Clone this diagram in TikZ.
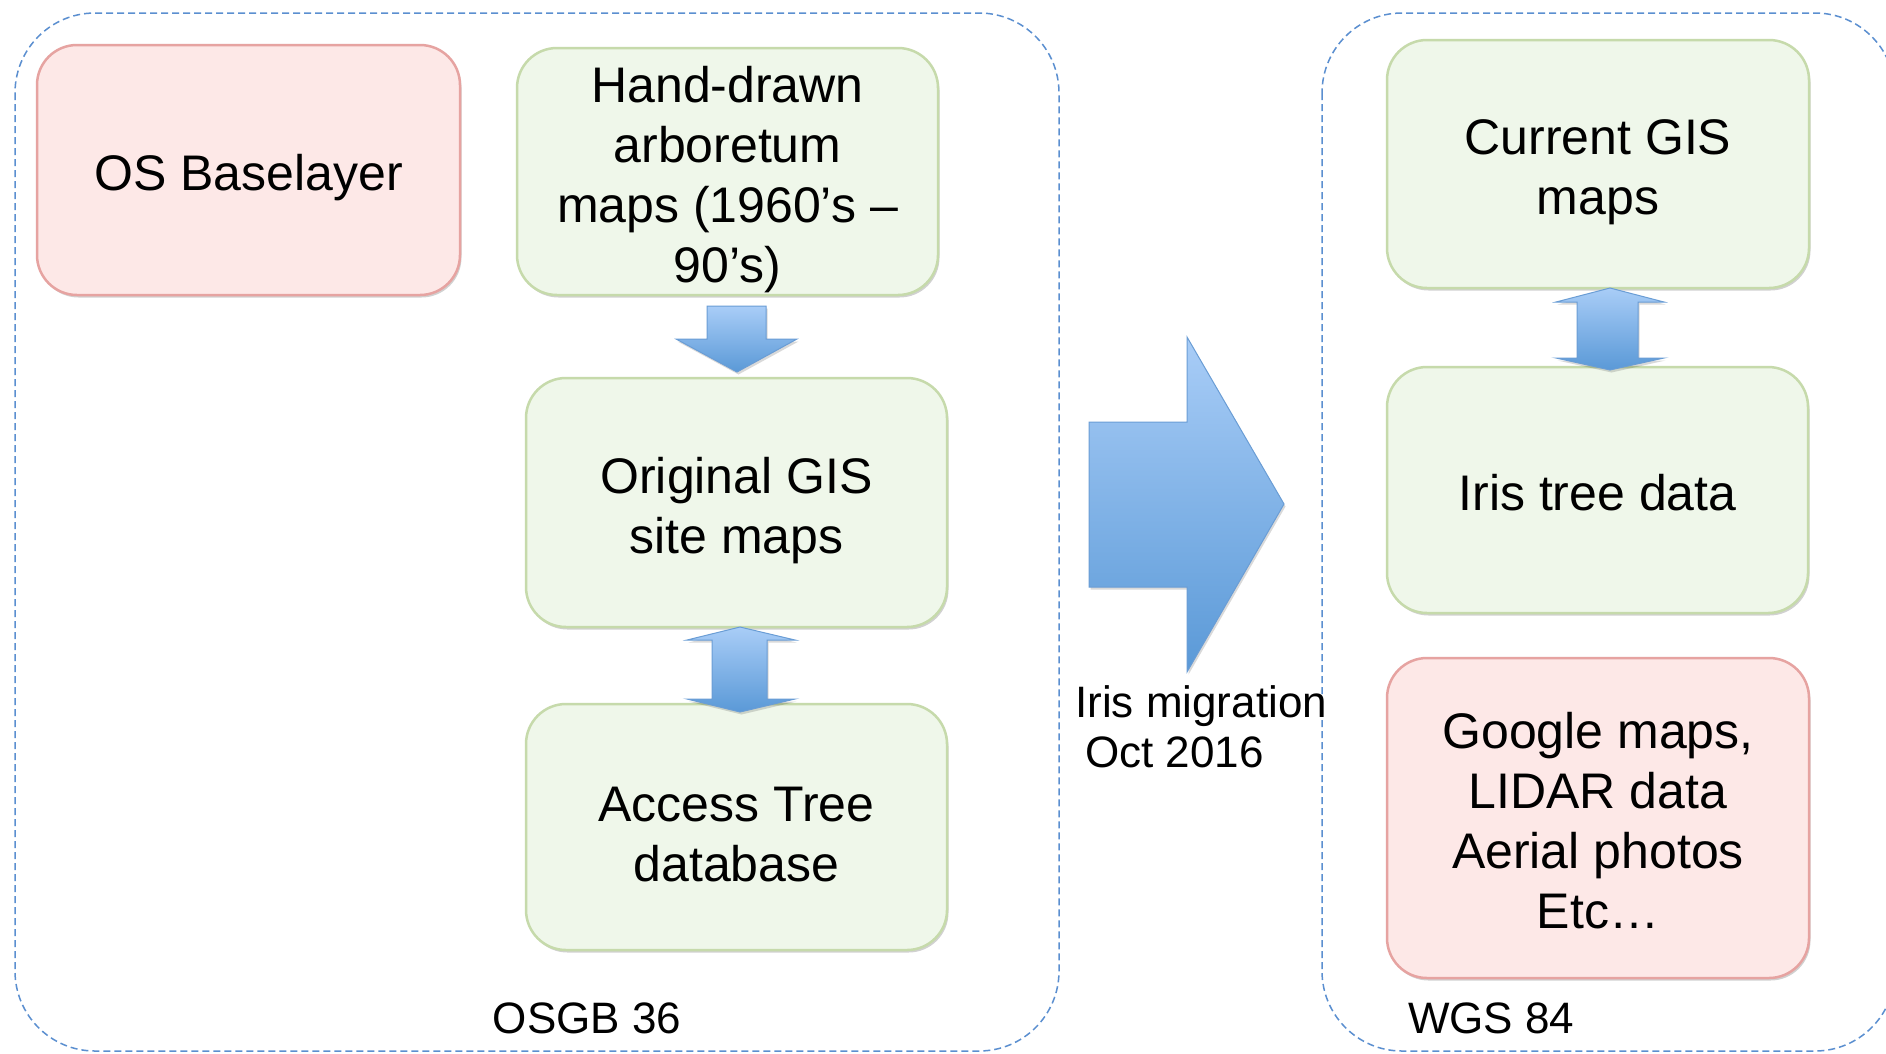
\documentclass[tikz,border=0pt]{standalone}
\usepackage{fontspec}
\setmainfont{Liberation Sans}
\usetikzlibrary{shadows}
\definecolor{gfill}{HTML}{EFF7EA}
\definecolor{gline}{HTML}{C6DAAB}
\definecolor{pfill}{HTML}{FDE8E7}
\definecolor{pline}{HTML}{E6A3A1}
\definecolor{atop}{HTML}{A9CDF7}
\definecolor{abot}{HTML}{5A99D7}
\definecolor{aline}{HTML}{6A9DD5}
\definecolor{frameblue}{HTML}{5B8FD0}
\tikzset{
  box/.style={rounded corners=40pt, line width=2.5pt, inner sep=0pt,
    drop shadow={shadow xshift=1.5pt, shadow yshift=-2.5pt, opacity=0.18, fill=black}},
  gbox/.style={box, fill=gfill, draw=gline},
  pbox/.style={box, fill=pfill, draw=pline},
  boxtext/.style={align=center, font=\fontsize{50}{60}\selectfont, inner sep=0pt, yshift=-8pt},
  boxtexthi/.style={boxtext, yshift=5pt},
  frame/.style={draw=frameblue, line width=1.5pt, dash pattern=on 7pt off 4pt, rounded corners=80pt},
  blockarrow/.style={top color=atop, bottom color=abot, draw=aline, line width=1pt,
    drop shadow={shadow xshift=1.5pt, shadow yshift=-2.5pt, opacity=0.15, fill=black}},
  lbl/.style={font=\fontsize{44}{50}\selectfont, inner sep=0pt}
}
\begin{document}
\begin{tikzpicture}[x=1pt,y=-1pt]
\useasboundingbox (0,0) rectangle (1886,1053);
\clip (0,0) rectangle (1886,1053);
\fill[white] (0,0) rectangle (1886,1053);

% frames
\draw[frame] (15,13) rectangle (1059,1051);
\draw[frame] (1322,13) rectangle (1895,1051);

% left boxes
\node[pbox, minimum width=423pt, minimum height=250pt,
  label={[boxtext]center:{OS Baselayer}}] (os) at (248.5,170) {};
\node[gbox, minimum width=421pt, minimum height=247pt,
  label={[boxtext]center:{Hand-drawn\\arboretum\\maps (1960’s –\\90’s)}}] (hand) at (727.5,171.5) {};
\node[gbox, minimum width=421pt, minimum height=249pt,
  label={[boxtext]center:{Original GIS\\site maps}}] (orig) at (736.5,502.5) {};
\node[gbox, minimum width=421pt, minimum height=246pt,
  label={[boxtext]center:{Access Tree\\database}}] (access) at (736.5,827) {};

% right boxes
\node[gbox, minimum width=422pt, minimum height=248pt,
  label={[boxtext]center:{Current GIS\\maps}}] (current) at (1598,164) {};
\node[gbox, minimum width=421pt, minimum height=246pt,
  label={[boxtexthi]center:{Iris tree data}}] (iris) at (1597.5,490) {};
\node[pbox, minimum width=422pt, minimum height=320pt,
  label={[boxtexthi]center:{Google maps,\\LIDAR data\\Aerial photos\\Etc…}}] (google) at (1598,818) {};

% block arrows
\path[blockarrow] (707,306)--(766,306)--(766,339)--(797,339)--(737,372)--(676,339)--(707,339)--cycle;
\path[blockarrow] (740,627)--(795,640)--(767,640)--(767,699)--(795,699)--(740,712)--(687,699)--(712,699)--(712,640)--(687,640)--cycle;
\path[blockarrow] (1610,288)--(1664,302)--(1638,302)--(1638,358)--(1664,358)--(1610,370)--(1556,358)--(1577,358)--(1577,302)--(1556,302)--cycle;
\path[blockarrow] (1089,422)--(1187,422)--(1187,337)--(1284,504)--(1187,672)--(1187,587)--(1089,587)--cycle;

% labels
\node[lbl, anchor=base west] (mig1) at (1075,717) {Iris migration};
\node[lbl, anchor=base west] (mig2) at (1085,767) {Oct 2016};
\node[lbl, anchor=base] (osgb) at (587,1033) {OSGB 36};
\node[lbl, anchor=base west] (wgs) at (1408,1033) {WGS 84};
\end{tikzpicture}
\end{document}
